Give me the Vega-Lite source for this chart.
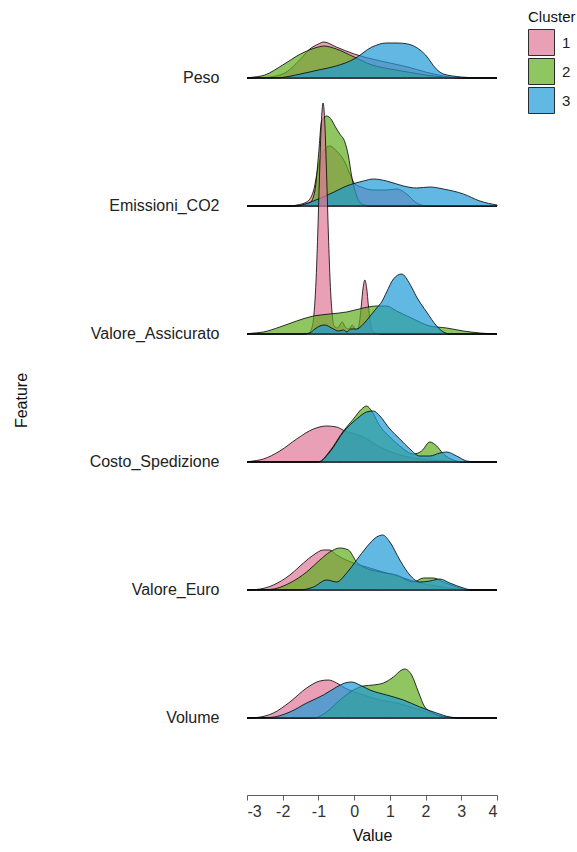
{
  "$schema": "https://vega.github.io/schema/vega-lite/v6.json",
  "width": 250,
  "height": 790,
  "autosize": {"type": "none"},
  "padding": {"left": 247, "top": 5, "right": 80, "bottom": 57},
  "background": "white",
  "config": {
    "view": {"stroke": null},
    "font": "Liberation Sans",
    "axis": {"grid": false, "labelFont": "Liberation Sans", "titleFont": "Liberation Sans", "titleFontWeight": "normal"},
    "legend": {"labelFont": "Liberation Sans", "titleFont": "Liberation Sans", "titleFontWeight": "normal"}
  },
  "data": {
    "values": [
      {"Feature": "Peso", "Cluster": "1", "Value": -3, "Density": 0},
      {"Feature": "Peso", "Cluster": "1", "Value": -2.5, "Density": 0.005},
      {"Feature": "Peso", "Cluster": "1", "Value": -2, "Density": 0.04},
      {"Feature": "Peso", "Cluster": "1", "Value": -1.5, "Density": 0.19},
      {"Feature": "Peso", "Cluster": "1", "Value": -1.24, "Density": 0.29},
      {"Feature": "Peso", "Cluster": "1", "Value": -1, "Density": 0.34},
      {"Feature": "Peso", "Cluster": "1", "Value": -0.85, "Density": 0.36},
      {"Feature": "Peso", "Cluster": "1", "Value": -0.5, "Density": 0.31},
      {"Feature": "Peso", "Cluster": "1", "Value": 0, "Density": 0.24},
      {"Feature": "Peso", "Cluster": "1", "Value": 0.5, "Density": 0.19},
      {"Feature": "Peso", "Cluster": "1", "Value": 1, "Density": 0.15},
      {"Feature": "Peso", "Cluster": "1", "Value": 1.5, "Density": 0.11},
      {"Feature": "Peso", "Cluster": "1", "Value": 2, "Density": 0.06},
      {"Feature": "Peso", "Cluster": "1", "Value": 2.5, "Density": 0.02},
      {"Feature": "Peso", "Cluster": "1", "Value": 3, "Density": 0},
      {"Feature": "Peso", "Cluster": "1", "Value": 4, "Density": 0},

      {"Feature": "Peso", "Cluster": "2", "Value": -3, "Density": 0},
      {"Feature": "Peso", "Cluster": "2", "Value": -2.9, "Density": 0.005},
      {"Feature": "Peso", "Cluster": "2", "Value": -2.5, "Density": 0.03},
      {"Feature": "Peso", "Cluster": "2", "Value": -2, "Density": 0.13},
      {"Feature": "Peso", "Cluster": "2", "Value": -1.5, "Density": 0.24},
      {"Feature": "Peso", "Cluster": "2", "Value": -1, "Density": 0.31},
      {"Feature": "Peso", "Cluster": "2", "Value": -0.85, "Density": 0.32},
      {"Feature": "Peso", "Cluster": "2", "Value": -0.5, "Density": 0.29},
      {"Feature": "Peso", "Cluster": "2", "Value": 0, "Density": 0.21},
      {"Feature": "Peso", "Cluster": "2", "Value": 0.5, "Density": 0.13},
      {"Feature": "Peso", "Cluster": "2", "Value": 1, "Density": 0.09},
      {"Feature": "Peso", "Cluster": "2", "Value": 1.5, "Density": 0.06},
      {"Feature": "Peso", "Cluster": "2", "Value": 2, "Density": 0.03},
      {"Feature": "Peso", "Cluster": "2", "Value": 2.5, "Density": 0.01},
      {"Feature": "Peso", "Cluster": "2", "Value": 3, "Density": 0},
      {"Feature": "Peso", "Cluster": "2", "Value": 4, "Density": 0},

      {"Feature": "Peso", "Cluster": "3", "Value": -3, "Density": 0},
      {"Feature": "Peso", "Cluster": "3", "Value": -2.2, "Density": 0},
      {"Feature": "Peso", "Cluster": "3", "Value": -1.5, "Density": 0.04},
      {"Feature": "Peso", "Cluster": "3", "Value": -1, "Density": 0.08},
      {"Feature": "Peso", "Cluster": "3", "Value": -0.5, "Density": 0.12},
      {"Feature": "Peso", "Cluster": "3", "Value": 0, "Density": 0.19},
      {"Feature": "Peso", "Cluster": "3", "Value": 0.5, "Density": 0.31},
      {"Feature": "Peso", "Cluster": "3", "Value": 0.9, "Density": 0.35},
      {"Feature": "Peso", "Cluster": "3", "Value": 1.2, "Density": 0.35},
      {"Feature": "Peso", "Cluster": "3", "Value": 1.5, "Density": 0.34},
      {"Feature": "Peso", "Cluster": "3", "Value": 2, "Density": 0.23},
      {"Feature": "Peso", "Cluster": "3", "Value": 2.3, "Density": 0.09},
      {"Feature": "Peso", "Cluster": "3", "Value": 2.5, "Density": 0.04},
      {"Feature": "Peso", "Cluster": "3", "Value": 3, "Density": 0.01},
      {"Feature": "Peso", "Cluster": "3", "Value": 3.5, "Density": 0},
      {"Feature": "Peso", "Cluster": "3", "Value": 4, "Density": 0},

      {"Feature": "Emissioni_CO2", "Cluster": "1", "Value": -3, "Density": 0},
      {"Feature": "Emissioni_CO2", "Cluster": "1", "Value": -1.75, "Density": 0},
      {"Feature": "Emissioni_CO2", "Cluster": "1", "Value": -1.6, "Density": 0.01},
      {"Feature": "Emissioni_CO2", "Cluster": "1", "Value": -1.33, "Density": 0.04},
      {"Feature": "Emissioni_CO2", "Cluster": "1", "Value": -1.14, "Density": 0.15},
      {"Feature": "Emissioni_CO2", "Cluster": "1", "Value": -1.0, "Density": 0.4},
      {"Feature": "Emissioni_CO2", "Cluster": "1", "Value": -0.86, "Density": 0.55},
      {"Feature": "Emissioni_CO2", "Cluster": "1", "Value": -0.68, "Density": 0.6},
      {"Feature": "Emissioni_CO2", "Cluster": "1", "Value": -0.49, "Density": 0.55},
      {"Feature": "Emissioni_CO2", "Cluster": "1", "Value": -0.26, "Density": 0.44},
      {"Feature": "Emissioni_CO2", "Cluster": "1", "Value": -0.12, "Density": 0.32},
      {"Feature": "Emissioni_CO2", "Cluster": "1", "Value": 0.02, "Density": 0.22},
      {"Feature": "Emissioni_CO2", "Cluster": "1", "Value": 0.2, "Density": 0.19},
      {"Feature": "Emissioni_CO2", "Cluster": "1", "Value": 0.54, "Density": 0.16},
      {"Feature": "Emissioni_CO2", "Cluster": "1", "Value": 0.9, "Density": 0.16},
      {"Feature": "Emissioni_CO2", "Cluster": "1", "Value": 1.2, "Density": 0.17},
      {"Feature": "Emissioni_CO2", "Cluster": "1", "Value": 1.47, "Density": 0.12},
      {"Feature": "Emissioni_CO2", "Cluster": "1", "Value": 1.75, "Density": 0.03},
      {"Feature": "Emissioni_CO2", "Cluster": "1", "Value": 2.05, "Density": 0},
      {"Feature": "Emissioni_CO2", "Cluster": "1", "Value": 4, "Density": 0},

      {"Feature": "Emissioni_CO2", "Cluster": "2", "Value": -3, "Density": 0},
      {"Feature": "Emissioni_CO2", "Cluster": "2", "Value": -1.6, "Density": 0},
      {"Feature": "Emissioni_CO2", "Cluster": "2", "Value": -1.24, "Density": 0.03},
      {"Feature": "Emissioni_CO2", "Cluster": "2", "Value": -1.1, "Density": 0.15},
      {"Feature": "Emissioni_CO2", "Cluster": "2", "Value": -1.0, "Density": 0.5},
      {"Feature": "Emissioni_CO2", "Cluster": "2", "Value": -0.91, "Density": 0.85},
      {"Feature": "Emissioni_CO2", "Cluster": "2", "Value": -0.77, "Density": 0.9},
      {"Feature": "Emissioni_CO2", "Cluster": "2", "Value": -0.63, "Density": 0.86},
      {"Feature": "Emissioni_CO2", "Cluster": "2", "Value": -0.54, "Density": 0.8},
      {"Feature": "Emissioni_CO2", "Cluster": "2", "Value": -0.4, "Density": 0.72},
      {"Feature": "Emissioni_CO2", "Cluster": "2", "Value": -0.26, "Density": 0.64},
      {"Feature": "Emissioni_CO2", "Cluster": "2", "Value": -0.16, "Density": 0.5},
      {"Feature": "Emissioni_CO2", "Cluster": "2", "Value": -0.07, "Density": 0.3},
      {"Feature": "Emissioni_CO2", "Cluster": "2", "Value": 0.07, "Density": 0.1},
      {"Feature": "Emissioni_CO2", "Cluster": "2", "Value": 0.21, "Density": 0.02},
      {"Feature": "Emissioni_CO2", "Cluster": "2", "Value": 0.44, "Density": 0},
      {"Feature": "Emissioni_CO2", "Cluster": "2", "Value": 4, "Density": 0},

      {"Feature": "Emissioni_CO2", "Cluster": "3", "Value": -3, "Density": 0},
      {"Feature": "Emissioni_CO2", "Cluster": "3", "Value": -1.66, "Density": 0},
      {"Feature": "Emissioni_CO2", "Cluster": "3", "Value": -1.14, "Density": 0.05},
      {"Feature": "Emissioni_CO2", "Cluster": "3", "Value": -0.68, "Density": 0.12},
      {"Feature": "Emissioni_CO2", "Cluster": "3", "Value": -0.21, "Density": 0.2},
      {"Feature": "Emissioni_CO2", "Cluster": "3", "Value": 0.26, "Density": 0.25},
      {"Feature": "Emissioni_CO2", "Cluster": "3", "Value": 0.54, "Density": 0.27},
      {"Feature": "Emissioni_CO2", "Cluster": "3", "Value": 0.91, "Density": 0.25},
      {"Feature": "Emissioni_CO2", "Cluster": "3", "Value": 1.38, "Density": 0.2},
      {"Feature": "Emissioni_CO2", "Cluster": "3", "Value": 1.75, "Density": 0.18},
      {"Feature": "Emissioni_CO2", "Cluster": "3", "Value": 2.12, "Density": 0.19},
      {"Feature": "Emissioni_CO2", "Cluster": "3", "Value": 2.5, "Density": 0.17},
      {"Feature": "Emissioni_CO2", "Cluster": "3", "Value": 3.06, "Density": 0.12},
      {"Feature": "Emissioni_CO2", "Cluster": "3", "Value": 3.52, "Density": 0.05},
      {"Feature": "Emissioni_CO2", "Cluster": "3", "Value": 4, "Density": 0.01},

      {"Feature": "Valore_Assicurato", "Cluster": "1", "Value": -3, "Density": 0},
      {"Feature": "Valore_Assicurato", "Cluster": "1", "Value": -1.4, "Density": 0},
      {"Feature": "Valore_Assicurato", "Cluster": "1", "Value": -1.27, "Density": 0.01},
      {"Feature": "Valore_Assicurato", "Cluster": "1", "Value": -1.17, "Density": 0.08},
      {"Feature": "Valore_Assicurato", "Cluster": "1", "Value": -1.12, "Density": 0.22},
      {"Feature": "Valore_Assicurato", "Cluster": "1", "Value": -1.07, "Density": 0.51},
      {"Feature": "Valore_Assicurato", "Cluster": "1", "Value": -1.02, "Density": 0.99},
      {"Feature": "Valore_Assicurato", "Cluster": "1", "Value": -0.97, "Density": 1.58},
      {"Feature": "Valore_Assicurato", "Cluster": "1", "Value": -0.92, "Density": 2.1},
      {"Feature": "Valore_Assicurato", "Cluster": "1", "Value": -0.87, "Density": 2.31},
      {"Feature": "Valore_Assicurato", "Cluster": "1", "Value": -0.82, "Density": 2.1},
      {"Feature": "Valore_Assicurato", "Cluster": "1", "Value": -0.77, "Density": 1.58},
      {"Feature": "Valore_Assicurato", "Cluster": "1", "Value": -0.72, "Density": 0.99},
      {"Feature": "Valore_Assicurato", "Cluster": "1", "Value": -0.67, "Density": 0.51},
      {"Feature": "Valore_Assicurato", "Cluster": "1", "Value": -0.62, "Density": 0.22},
      {"Feature": "Valore_Assicurato", "Cluster": "1", "Value": -0.56, "Density": 0.08},
      {"Feature": "Valore_Assicurato", "Cluster": "1", "Value": -0.47, "Density": 0.06},
      {"Feature": "Valore_Assicurato", "Cluster": "1", "Value": -0.33, "Density": 0.12},
      {"Feature": "Valore_Assicurato", "Cluster": "1", "Value": -0.25, "Density": 0.07},
      {"Feature": "Valore_Assicurato", "Cluster": "1", "Value": -0.15, "Density": 0.05},
      {"Feature": "Valore_Assicurato", "Cluster": "1", "Value": -0.05, "Density": 0.09},
      {"Feature": "Valore_Assicurato", "Cluster": "1", "Value": 0.05, "Density": 0.04},
      {"Feature": "Valore_Assicurato", "Cluster": "1", "Value": 0.1, "Density": 0.05},
      {"Feature": "Valore_Assicurato", "Cluster": "1", "Value": 0.15, "Density": 0.12},
      {"Feature": "Valore_Assicurato", "Cluster": "1", "Value": 0.2, "Density": 0.28},
      {"Feature": "Valore_Assicurato", "Cluster": "1", "Value": 0.25, "Density": 0.46},
      {"Feature": "Valore_Assicurato", "Cluster": "1", "Value": 0.3, "Density": 0.54},
      {"Feature": "Valore_Assicurato", "Cluster": "1", "Value": 0.35, "Density": 0.46},
      {"Feature": "Valore_Assicurato", "Cluster": "1", "Value": 0.4, "Density": 0.28},
      {"Feature": "Valore_Assicurato", "Cluster": "1", "Value": 0.45, "Density": 0.12},
      {"Feature": "Valore_Assicurato", "Cluster": "1", "Value": 0.5, "Density": 0.04},
      {"Feature": "Valore_Assicurato", "Cluster": "1", "Value": 0.6, "Density": 0.01},
      {"Feature": "Valore_Assicurato", "Cluster": "1", "Value": 0.75, "Density": 0},
      {"Feature": "Valore_Assicurato", "Cluster": "1", "Value": 4, "Density": 0},

      {"Feature": "Valore_Assicurato", "Cluster": "2", "Value": -3, "Density": 0},
      {"Feature": "Valore_Assicurato", "Cluster": "2", "Value": -2.92, "Density": 0.005},
      {"Feature": "Valore_Assicurato", "Cluster": "2", "Value": -2.54, "Density": 0.02},
      {"Feature": "Valore_Assicurato", "Cluster": "2", "Value": -2.08, "Density": 0.07},
      {"Feature": "Valore_Assicurato", "Cluster": "2", "Value": -1.61, "Density": 0.13},
      {"Feature": "Valore_Assicurato", "Cluster": "2", "Value": -1.14, "Density": 0.18},
      {"Feature": "Valore_Assicurato", "Cluster": "2", "Value": -0.68, "Density": 0.2},
      {"Feature": "Valore_Assicurato", "Cluster": "2", "Value": -0.21, "Density": 0.22},
      {"Feature": "Valore_Assicurato", "Cluster": "2", "Value": 0.26, "Density": 0.26},
      {"Feature": "Valore_Assicurato", "Cluster": "2", "Value": 0.63, "Density": 0.28},
      {"Feature": "Valore_Assicurato", "Cluster": "2", "Value": 0.91, "Density": 0.28},
      {"Feature": "Valore_Assicurato", "Cluster": "2", "Value": 1.19, "Density": 0.23},
      {"Feature": "Valore_Assicurato", "Cluster": "2", "Value": 1.66, "Density": 0.15},
      {"Feature": "Valore_Assicurato", "Cluster": "2", "Value": 2.12, "Density": 0.08},
      {"Feature": "Valore_Assicurato", "Cluster": "2", "Value": 2.59, "Density": 0.06},
      {"Feature": "Valore_Assicurato", "Cluster": "2", "Value": 3.06, "Density": 0.03},
      {"Feature": "Valore_Assicurato", "Cluster": "2", "Value": 3.52, "Density": 0.01},
      {"Feature": "Valore_Assicurato", "Cluster": "2", "Value": 4, "Density": 0},

      {"Feature": "Valore_Assicurato", "Cluster": "3", "Value": -3, "Density": 0},
      {"Feature": "Valore_Assicurato", "Cluster": "3", "Value": -1.4, "Density": 0},
      {"Feature": "Valore_Assicurato", "Cluster": "3", "Value": -1.24, "Density": 0.01},
      {"Feature": "Valore_Assicurato", "Cluster": "3", "Value": -1.1, "Density": 0.05},
      {"Feature": "Valore_Assicurato", "Cluster": "3", "Value": -0.96, "Density": 0.08},
      {"Feature": "Valore_Assicurato", "Cluster": "3", "Value": -0.82, "Density": 0.09},
      {"Feature": "Valore_Assicurato", "Cluster": "3", "Value": -0.63, "Density": 0.06},
      {"Feature": "Valore_Assicurato", "Cluster": "3", "Value": -0.44, "Density": 0.03},
      {"Feature": "Valore_Assicurato", "Cluster": "3", "Value": -0.3, "Density": 0.04},
      {"Feature": "Valore_Assicurato", "Cluster": "3", "Value": -0.2, "Density": 0.02},
      {"Feature": "Valore_Assicurato", "Cluster": "3", "Value": -0.1, "Density": 0.05},
      {"Feature": "Valore_Assicurato", "Cluster": "3", "Value": 0.07, "Density": 0.05},
      {"Feature": "Valore_Assicurato", "Cluster": "3", "Value": 0.26, "Density": 0.1},
      {"Feature": "Valore_Assicurato", "Cluster": "3", "Value": 0.45, "Density": 0.18},
      {"Feature": "Valore_Assicurato", "Cluster": "3", "Value": 0.63, "Density": 0.26},
      {"Feature": "Valore_Assicurato", "Cluster": "3", "Value": 0.77, "Density": 0.32},
      {"Feature": "Valore_Assicurato", "Cluster": "3", "Value": 0.91, "Density": 0.42},
      {"Feature": "Valore_Assicurato", "Cluster": "3", "Value": 1.1, "Density": 0.55},
      {"Feature": "Valore_Assicurato", "Cluster": "3", "Value": 1.33, "Density": 0.6},
      {"Feature": "Valore_Assicurato", "Cluster": "3", "Value": 1.56, "Density": 0.5},
      {"Feature": "Valore_Assicurato", "Cluster": "3", "Value": 1.75, "Density": 0.37},
      {"Feature": "Valore_Assicurato", "Cluster": "3", "Value": 2.03, "Density": 0.22},
      {"Feature": "Valore_Assicurato", "Cluster": "3", "Value": 2.31, "Density": 0.08},
      {"Feature": "Valore_Assicurato", "Cluster": "3", "Value": 2.5, "Density": 0.02},
      {"Feature": "Valore_Assicurato", "Cluster": "3", "Value": 2.7, "Density": 0},
      {"Feature": "Valore_Assicurato", "Cluster": "3", "Value": 4, "Density": 0},

      {"Feature": "Costo_Spedizione", "Cluster": "1", "Value": -3, "Density": 0},
      {"Feature": "Costo_Spedizione", "Cluster": "1", "Value": -2.92, "Density": 0.005},
      {"Feature": "Costo_Spedizione", "Cluster": "1", "Value": -2.54, "Density": 0.03},
      {"Feature": "Costo_Spedizione", "Cluster": "1", "Value": -2.08, "Density": 0.11},
      {"Feature": "Costo_Spedizione", "Cluster": "1", "Value": -1.61, "Density": 0.23},
      {"Feature": "Costo_Spedizione", "Cluster": "1", "Value": -1.14, "Density": 0.33},
      {"Feature": "Costo_Spedizione", "Cluster": "1", "Value": -0.77, "Density": 0.36},
      {"Feature": "Costo_Spedizione", "Cluster": "1", "Value": -0.49, "Density": 0.35},
      {"Feature": "Costo_Spedizione", "Cluster": "1", "Value": -0.26, "Density": 0.31},
      {"Feature": "Costo_Spedizione", "Cluster": "1", "Value": 0.26, "Density": 0.25},
      {"Feature": "Costo_Spedizione", "Cluster": "1", "Value": 0.72, "Density": 0.15},
      {"Feature": "Costo_Spedizione", "Cluster": "1", "Value": 1.19, "Density": 0.08},
      {"Feature": "Costo_Spedizione", "Cluster": "1", "Value": 1.66, "Density": 0.04},
      {"Feature": "Costo_Spedizione", "Cluster": "1", "Value": 2.12, "Density": 0.02},
      {"Feature": "Costo_Spedizione", "Cluster": "1", "Value": 2.59, "Density": 0.01},
      {"Feature": "Costo_Spedizione", "Cluster": "1", "Value": 3.06, "Density": 0},
      {"Feature": "Costo_Spedizione", "Cluster": "1", "Value": 4, "Density": 0},

      {"Feature": "Costo_Spedizione", "Cluster": "2", "Value": -3, "Density": 0},
      {"Feature": "Costo_Spedizione", "Cluster": "2", "Value": -1.0, "Density": 0},
      {"Feature": "Costo_Spedizione", "Cluster": "2", "Value": -0.68, "Density": 0.11},
      {"Feature": "Costo_Spedizione", "Cluster": "2", "Value": -0.3, "Density": 0.31},
      {"Feature": "Costo_Spedizione", "Cluster": "2", "Value": -0.02, "Density": 0.43},
      {"Feature": "Costo_Spedizione", "Cluster": "2", "Value": 0.21, "Density": 0.53},
      {"Feature": "Costo_Spedizione", "Cluster": "2", "Value": 0.35, "Density": 0.56},
      {"Feature": "Costo_Spedizione", "Cluster": "2", "Value": 0.49, "Density": 0.51},
      {"Feature": "Costo_Spedizione", "Cluster": "2", "Value": 0.72, "Density": 0.36},
      {"Feature": "Costo_Spedizione", "Cluster": "2", "Value": 1.0, "Density": 0.25},
      {"Feature": "Costo_Spedizione", "Cluster": "2", "Value": 1.28, "Density": 0.16},
      {"Feature": "Costo_Spedizione", "Cluster": "2", "Value": 1.66, "Density": 0.08},
      {"Feature": "Costo_Spedizione", "Cluster": "2", "Value": 1.89, "Density": 0.11},
      {"Feature": "Costo_Spedizione", "Cluster": "2", "Value": 2.12, "Density": 0.2},
      {"Feature": "Costo_Spedizione", "Cluster": "2", "Value": 2.31, "Density": 0.16},
      {"Feature": "Costo_Spedizione", "Cluster": "2", "Value": 2.5, "Density": 0.08},
      {"Feature": "Costo_Spedizione", "Cluster": "2", "Value": 2.78, "Density": 0.02},
      {"Feature": "Costo_Spedizione", "Cluster": "2", "Value": 3.06, "Density": 0},
      {"Feature": "Costo_Spedizione", "Cluster": "2", "Value": 4, "Density": 0},

      {"Feature": "Costo_Spedizione", "Cluster": "3", "Value": -3, "Density": 0},
      {"Feature": "Costo_Spedizione", "Cluster": "3", "Value": -1.0, "Density": 0},
      {"Feature": "Costo_Spedizione", "Cluster": "3", "Value": -0.68, "Density": 0.1},
      {"Feature": "Costo_Spedizione", "Cluster": "3", "Value": -0.3, "Density": 0.3},
      {"Feature": "Costo_Spedizione", "Cluster": "3", "Value": 0.07, "Density": 0.43},
      {"Feature": "Costo_Spedizione", "Cluster": "3", "Value": 0.35, "Density": 0.5},
      {"Feature": "Costo_Spedizione", "Cluster": "3", "Value": 0.54, "Density": 0.51},
      {"Feature": "Costo_Spedizione", "Cluster": "3", "Value": 0.72, "Density": 0.46},
      {"Feature": "Costo_Spedizione", "Cluster": "3", "Value": 1.0, "Density": 0.33},
      {"Feature": "Costo_Spedizione", "Cluster": "3", "Value": 1.28, "Density": 0.23},
      {"Feature": "Costo_Spedizione", "Cluster": "3", "Value": 1.56, "Density": 0.13},
      {"Feature": "Costo_Spedizione", "Cluster": "3", "Value": 1.84, "Density": 0.06},
      {"Feature": "Costo_Spedizione", "Cluster": "3", "Value": 2.12, "Density": 0.06},
      {"Feature": "Costo_Spedizione", "Cluster": "3", "Value": 2.4, "Density": 0.09},
      {"Feature": "Costo_Spedizione", "Cluster": "3", "Value": 2.59, "Density": 0.1},
      {"Feature": "Costo_Spedizione", "Cluster": "3", "Value": 2.87, "Density": 0.06},
      {"Feature": "Costo_Spedizione", "Cluster": "3", "Value": 3.15, "Density": 0.01},
      {"Feature": "Costo_Spedizione", "Cluster": "3", "Value": 3.4, "Density": 0},
      {"Feature": "Costo_Spedizione", "Cluster": "3", "Value": 4, "Density": 0},

      {"Feature": "Valore_Euro", "Cluster": "1", "Value": -3, "Density": 0},
      {"Feature": "Valore_Euro", "Cluster": "1", "Value": -2.73, "Density": 0.005},
      {"Feature": "Valore_Euro", "Cluster": "1", "Value": -2.26, "Density": 0.05},
      {"Feature": "Valore_Euro", "Cluster": "1", "Value": -1.8, "Density": 0.15},
      {"Feature": "Valore_Euro", "Cluster": "1", "Value": -1.42, "Density": 0.27},
      {"Feature": "Valore_Euro", "Cluster": "1", "Value": -1.14, "Density": 0.35},
      {"Feature": "Valore_Euro", "Cluster": "1", "Value": -0.86, "Density": 0.4},
      {"Feature": "Valore_Euro", "Cluster": "1", "Value": -0.68, "Density": 0.4},
      {"Feature": "Valore_Euro", "Cluster": "1", "Value": -0.49, "Density": 0.35},
      {"Feature": "Valore_Euro", "Cluster": "1", "Value": -0.02, "Density": 0.27},
      {"Feature": "Valore_Euro", "Cluster": "1", "Value": 0.44, "Density": 0.22},
      {"Feature": "Valore_Euro", "Cluster": "1", "Value": 0.91, "Density": 0.17},
      {"Feature": "Valore_Euro", "Cluster": "1", "Value": 1.38, "Density": 0.12},
      {"Feature": "Valore_Euro", "Cluster": "1", "Value": 1.84, "Density": 0.07},
      {"Feature": "Valore_Euro", "Cluster": "1", "Value": 2.31, "Density": 0.04},
      {"Feature": "Valore_Euro", "Cluster": "1", "Value": 2.87, "Density": 0.01},
      {"Feature": "Valore_Euro", "Cluster": "1", "Value": 3.2, "Density": 0},
      {"Feature": "Valore_Euro", "Cluster": "1", "Value": 4, "Density": 0},

      {"Feature": "Valore_Euro", "Cluster": "2", "Value": -3, "Density": 0},
      {"Feature": "Valore_Euro", "Cluster": "2", "Value": -2.36, "Density": 0.005},
      {"Feature": "Valore_Euro", "Cluster": "2", "Value": -1.8, "Density": 0.07},
      {"Feature": "Valore_Euro", "Cluster": "2", "Value": -1.33, "Density": 0.18},
      {"Feature": "Valore_Euro", "Cluster": "2", "Value": -0.96, "Density": 0.3},
      {"Feature": "Valore_Euro", "Cluster": "2", "Value": -0.68, "Density": 0.38},
      {"Feature": "Valore_Euro", "Cluster": "2", "Value": -0.4, "Density": 0.42},
      {"Feature": "Valore_Euro", "Cluster": "2", "Value": -0.16, "Density": 0.4},
      {"Feature": "Valore_Euro", "Cluster": "2", "Value": 0.07, "Density": 0.28},
      {"Feature": "Valore_Euro", "Cluster": "2", "Value": 0.26, "Density": 0.23},
      {"Feature": "Valore_Euro", "Cluster": "2", "Value": 0.72, "Density": 0.18},
      {"Feature": "Valore_Euro", "Cluster": "2", "Value": 1.19, "Density": 0.15},
      {"Feature": "Valore_Euro", "Cluster": "2", "Value": 1.66, "Density": 0.08},
      {"Feature": "Valore_Euro", "Cluster": "2", "Value": 1.94, "Density": 0.12},
      {"Feature": "Valore_Euro", "Cluster": "2", "Value": 2.22, "Density": 0.12},
      {"Feature": "Valore_Euro", "Cluster": "2", "Value": 2.5, "Density": 0.08},
      {"Feature": "Valore_Euro", "Cluster": "2", "Value": 2.87, "Density": 0.03},
      {"Feature": "Valore_Euro", "Cluster": "2", "Value": 3.2, "Density": 0},
      {"Feature": "Valore_Euro", "Cluster": "2", "Value": 4, "Density": 0},

      {"Feature": "Valore_Euro", "Cluster": "3", "Value": -3, "Density": 0},
      {"Feature": "Valore_Euro", "Cluster": "3", "Value": -1.52, "Density": 0},
      {"Feature": "Valore_Euro", "Cluster": "3", "Value": -1.14, "Density": 0.03},
      {"Feature": "Valore_Euro", "Cluster": "3", "Value": -0.77, "Density": 0.1},
      {"Feature": "Valore_Euro", "Cluster": "3", "Value": -0.49, "Density": 0.08},
      {"Feature": "Valore_Euro", "Cluster": "3", "Value": -0.21, "Density": 0.17},
      {"Feature": "Valore_Euro", "Cluster": "3", "Value": 0.07, "Density": 0.3},
      {"Feature": "Valore_Euro", "Cluster": "3", "Value": 0.35, "Density": 0.43},
      {"Feature": "Valore_Euro", "Cluster": "3", "Value": 0.63, "Density": 0.53},
      {"Feature": "Valore_Euro", "Cluster": "3", "Value": 0.8, "Density": 0.55},
      {"Feature": "Valore_Euro", "Cluster": "3", "Value": 1.0, "Density": 0.48},
      {"Feature": "Valore_Euro", "Cluster": "3", "Value": 1.28, "Density": 0.3},
      {"Feature": "Valore_Euro", "Cluster": "3", "Value": 1.56, "Density": 0.15},
      {"Feature": "Valore_Euro", "Cluster": "3", "Value": 1.84, "Density": 0.08},
      {"Feature": "Valore_Euro", "Cluster": "3", "Value": 2.12, "Density": 0.09},
      {"Feature": "Valore_Euro", "Cluster": "3", "Value": 2.4, "Density": 0.11},
      {"Feature": "Valore_Euro", "Cluster": "3", "Value": 2.68, "Density": 0.07},
      {"Feature": "Valore_Euro", "Cluster": "3", "Value": 3.06, "Density": 0.02},
      {"Feature": "Valore_Euro", "Cluster": "3", "Value": 3.3, "Density": 0},
      {"Feature": "Valore_Euro", "Cluster": "3", "Value": 4, "Density": 0},

      {"Feature": "Volume", "Cluster": "1", "Value": -3, "Density": 0},
      {"Feature": "Volume", "Cluster": "1", "Value": -2.73, "Density": 0.005},
      {"Feature": "Volume", "Cluster": "1", "Value": -2.26, "Density": 0.05},
      {"Feature": "Volume", "Cluster": "1", "Value": -1.8, "Density": 0.16},
      {"Feature": "Volume", "Cluster": "1", "Value": -1.33, "Density": 0.3},
      {"Feature": "Volume", "Cluster": "1", "Value": -0.96, "Density": 0.37},
      {"Feature": "Volume", "Cluster": "1", "Value": -0.72, "Density": 0.38},
      {"Feature": "Volume", "Cluster": "1", "Value": -0.49, "Density": 0.35},
      {"Feature": "Volume", "Cluster": "1", "Value": -0.26, "Density": 0.3},
      {"Feature": "Volume", "Cluster": "1", "Value": 0.26, "Density": 0.23},
      {"Feature": "Volume", "Cluster": "1", "Value": 0.72, "Density": 0.18},
      {"Feature": "Volume", "Cluster": "1", "Value": 1.19, "Density": 0.15},
      {"Feature": "Volume", "Cluster": "1", "Value": 1.66, "Density": 0.1},
      {"Feature": "Volume", "Cluster": "1", "Value": 2.12, "Density": 0.05},
      {"Feature": "Volume", "Cluster": "1", "Value": 2.59, "Density": 0.01},
      {"Feature": "Volume", "Cluster": "1", "Value": 3, "Density": 0},
      {"Feature": "Volume", "Cluster": "1", "Value": 4, "Density": 0},

      {"Feature": "Volume", "Cluster": "2", "Value": -3, "Density": 0},
      {"Feature": "Volume", "Cluster": "2", "Value": -1.14, "Density": 0},
      {"Feature": "Volume", "Cluster": "2", "Value": -0.77, "Density": 0.06},
      {"Feature": "Volume", "Cluster": "2", "Value": -0.4, "Density": 0.18},
      {"Feature": "Volume", "Cluster": "2", "Value": -0.02, "Density": 0.28},
      {"Feature": "Volume", "Cluster": "2", "Value": 0.26, "Density": 0.32},
      {"Feature": "Volume", "Cluster": "2", "Value": 0.54, "Density": 0.33},
      {"Feature": "Volume", "Cluster": "2", "Value": 0.82, "Density": 0.35},
      {"Feature": "Volume", "Cluster": "2", "Value": 1.1, "Density": 0.41},
      {"Feature": "Volume", "Cluster": "2", "Value": 1.33, "Density": 0.48},
      {"Feature": "Volume", "Cluster": "2", "Value": 1.42, "Density": 0.49},
      {"Feature": "Volume", "Cluster": "2", "Value": 1.61, "Density": 0.43},
      {"Feature": "Volume", "Cluster": "2", "Value": 1.8, "Density": 0.26},
      {"Feature": "Volume", "Cluster": "2", "Value": 1.98, "Density": 0.11},
      {"Feature": "Volume", "Cluster": "2", "Value": 2.22, "Density": 0.05},
      {"Feature": "Volume", "Cluster": "2", "Value": 2.5, "Density": 0.01},
      {"Feature": "Volume", "Cluster": "2", "Value": 2.9, "Density": 0},
      {"Feature": "Volume", "Cluster": "2", "Value": 4, "Density": 0},

      {"Feature": "Volume", "Cluster": "3", "Value": -3, "Density": 0},
      {"Feature": "Volume", "Cluster": "3", "Value": -2.36, "Density": 0.005},
      {"Feature": "Volume", "Cluster": "3", "Value": -1.8, "Density": 0.06},
      {"Feature": "Volume", "Cluster": "3", "Value": -1.33, "Density": 0.15},
      {"Feature": "Volume", "Cluster": "3", "Value": -0.86, "Density": 0.23},
      {"Feature": "Volume", "Cluster": "3", "Value": -0.49, "Density": 0.31},
      {"Feature": "Volume", "Cluster": "3", "Value": -0.26, "Density": 0.35},
      {"Feature": "Volume", "Cluster": "3", "Value": -0.07, "Density": 0.36},
      {"Feature": "Volume", "Cluster": "3", "Value": 0.16, "Density": 0.33},
      {"Feature": "Volume", "Cluster": "3", "Value": 0.44, "Density": 0.28},
      {"Feature": "Volume", "Cluster": "3", "Value": 0.91, "Density": 0.23},
      {"Feature": "Volume", "Cluster": "3", "Value": 1.38, "Density": 0.18},
      {"Feature": "Volume", "Cluster": "3", "Value": 1.84, "Density": 0.11},
      {"Feature": "Volume", "Cluster": "3", "Value": 2.31, "Density": 0.05},
      {"Feature": "Volume", "Cluster": "3", "Value": 2.68, "Density": 0.01},
      {"Feature": "Volume", "Cluster": "3", "Value": 3, "Density": 0},
      {"Feature": "Volume", "Cluster": "3", "Value": 4, "Density": 0}
    ]
  },
  "transform": [
    {"calculate": "indexof(['Volume', 'Valore_Euro', 'Costo_Spedizione', 'Valore_Assicurato', 'Emissioni_CO2', 'Peso'], datum.Feature)", "as": "base"},
    {"calculate": "datum.base + datum.Density * 0.78125", "as": "ridge"}
  ],
  "mark": {"type": "area", "interpolate": "monotone", "fillOpacity": 0.7, "stroke": "black", "strokeWidth": 0.8},
  "encoding": {
    "x": {
      "field": "Value", "type": "quantitative",
      "scale": {"domain": [-3, 4], "nice": false, "zero": false},
      "axis": {
        "title": "Value", "values": [-3, -2, -1, 0, 1, 2, 3, 4],
        "labelExpr": "datum.value < 0 ? '-' + abs(datum.value) : '' + datum.value",
        "domainColor": "#333333", "domainWidth": 0.8, "tickColor": "#333333", "tickWidth": 0.8, "tickSize": 5,
        "labelFontSize": 16, "labelColor": "#333333", "labelPadding": 3,
        "titleFontSize": 16, "titleColor": "#111111", "titlePadding": 8
      }
    },
    "y": {
      "field": "ridge", "type": "quantitative", "stack": null,
      "scale": {"domain": [-0.6016, 5.5703], "nice": false, "zero": false},
      "axis": {
        "title": "Feature", "values": [0, 1, 2, 3, 4, 5],
        "labelExpr": "['Volume', 'Valore_Euro', 'Costo_Spedizione', 'Valore_Assicurato', 'Emissioni_CO2', 'Peso'][datum.value]",
        "domain": false, "ticks": false, "tickSize": 0, "labelPadding": 28,
        "labelFontSize": 16, "labelColor": "#222222", "labelBaseline": "middle",
        "titleFontSize": 16, "titleColor": "#111111", "titleX": -218
      }
    },
    "y2": {"field": "base"},
    "detail": {"field": "Feature"},
    "color": {
      "field": "Cluster", "type": "nominal",
      "scale": {"domain": ["1", "2", "3"], "range": ["#E07797", "#60AE20", "#1E9AD6"]},
      "legend": {
        "orient": "none", "legendX": 281, "legendY": 5,
        "title": "Cluster", "titleFontSize": 15, "titleColor": "#111111", "titlePadding": 4,
        "symbolType": "square", "symbolSize": 676, "symbolStrokeColor": "black", "symbolStrokeWidth": 0.8,
        "labelFontSize": 15, "labelColor": "#222222", "labelOffset": 7, "rowPadding": -3,
        "encode": {"symbols": {"update": {"fillOpacity": {"value": 0.7}, "stroke": {"value": "black"}}}}
      }
    }
  }
}
